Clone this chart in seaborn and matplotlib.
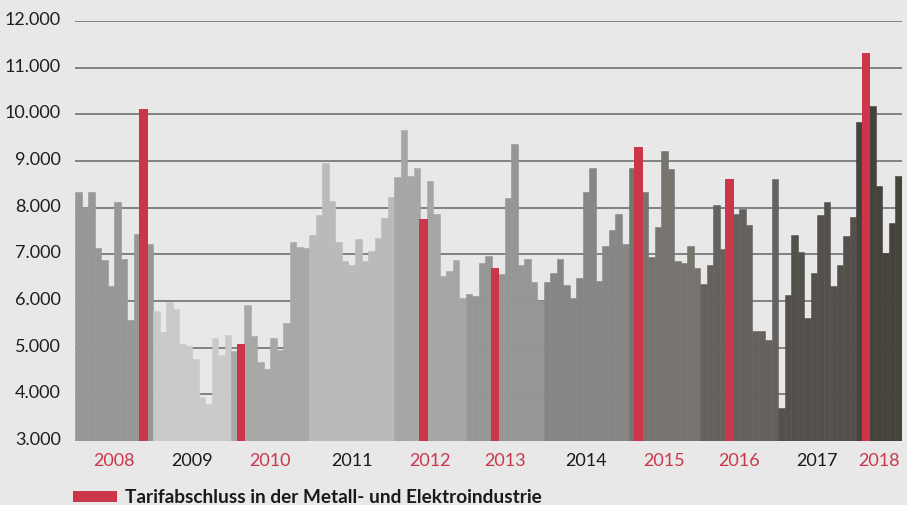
import matplotlib
matplotlib.use("Agg")
import matplotlib.pyplot as plt
import matplotlib.transforms as mtransforms
from matplotlib.patches import Rectangle
import numpy as np
import pandas as pd
import seaborn as sns

# ---------------- data ----------------
years = ["2008", "2009", "2010", "2011", "2012", "2013", "2014", "2015", "2016", "2017", "2018"]

v2008 = [8343, 8021, 8343, 7136, 6879, 6314, 8121, 6907, 5593, 7443, 10114, 7214]
v2009 = [5786, 5336, 5979, 5836, 5079, 5043, 4764, 3950, 3786, 5214, 4850, 5271]
v2010 = [4936, 5079, 5921, 5243, 4686, 4543, 5214, 4950, 5521, 7271, 7164, 7136]
v2011 = [7407, 7836, 8957, 8143, 7271, 6850, 6771, 7329, 6850, 7071, 7357, 7779, 8229]
v2012 = [8656, 9662, 8685, 8842, 7750, 8571, 7857, 6545, 6652, 6880, 6074]
v2013 = [6145, 6103, 6823, 6966, 6716, 6574, 8207, 9355, 6773, 6909, 6402, 6003]
v2014 = [6400, 6600, 6907, 6343, 6064, 6486, 8343, 8850, 6429, 7186, 7529, 7864, 7214]
v2015 = [8849, 9298, 8342, 6937, 7579, 9212, 8820, 6852, 6823, 7187, 6709]
v2016 = [6367, 6766, 8057, 7108, 8620, 7857, 7971, 7636, 5361, 5361, 5161, 8620]
v2017 = [3699, 6124, 7408, 7044, 5639, 6595, 7836, 8121, 6317, 6766, 7386, 7807]
v2018 = [9833, 11324, 10168, 8456, 7023, 7665, 8678]

# month (position within the year's block) of the Tarifabschluss, None if none
tarif_month = [10, None, 1, None, 4, 4, None, 1, 4, None, 1]

y_ticks = [3000, 4000, 5000, 6000, 7000, 8000, 9000, 10000, 11000, 12000]
y_tick_labels = ["3.000", "4.000", "5.000", "6.000", "7.000", "8.000",
                 "9.000", "10.000", "11.000", "12.000"]

legend_label = "Tarifabschluss in der Metall- und Elektroindustrie"

# ---------------- styles ----------------
BG = "#e8e8e8"
RED = "#cc364a"
GRID = "#666666"
year_colors = ["#989796", "#cacac9", "#a9a8a7", "#bbbab9", "#a7a6a5", "#979695",
               "#878684", "#77736f", "#65615e", "#54514d", "#46423c"]

sns.set_style("white")
plt.rcParams["font.family"] = ["Lato", "DejaVu Sans"]

values_by_year = [v2008, v2009, v2010, v2011, v2012, v2013, v2014, v2015, v2016, v2017, v2018]

rows = []
idx = 0
for y, vals, tm in zip(years, values_by_year, tarif_month):
    for m, v in enumerate(vals):
        rows.append({"idx": idx, "value": v, "year": y, "tarif": (tm is not None and m == tm)})
        idx += 1
df = pd.DataFrame(rows)
n = len(df)
order = list(range(n))

fig = plt.figure(figsize=(9.07, 5.05), dpi=100, facecolor=BG)
ax = fig.add_axes([75 / 907, 64 / 505, 827 / 907, 420 / 505])
ax.set_facecolor(BG)

sns.barplot(data=df, x="idx", y="value", hue="year", order=order,
            hue_order=years, palette=dict(zip(years, year_colors)),
            dodge=False, width=1.0, saturation=1, legend=False,
            linewidth=0, ax=ax, zorder=2)
for p in ax.patches:
    p.set_edgecolor(p.get_facecolor())
    p.set_linewidth(0.4)
sns.barplot(data=df[df["tarif"]], x="idx", y="value", order=order,
            color=RED, width=1.32, saturation=1, linewidth=0,
            ax=ax, zorder=3)

ax.set_ylim(3000, 12000)
ax.set_xlim(-0.5, n - 0.5)
ax.set_yticks(y_ticks)
ax.set_yticklabels(y_tick_labels)
ax.yaxis.grid(True, color=GRID, linewidth=1.1, zorder=0)
ax.xaxis.grid(False)
ax.set_axisbelow(True)
for s in ax.spines.values():
    s.set_visible(False)
ax.set_xlabel("")
ax.set_ylabel("")

# year labels centred under each block
sizes = [len(v) for v in values_by_year]
starts = np.cumsum([0] + sizes[:-1])
centers = [s + (k - 1) / 2 for s, k in zip(starts, sizes)]
ax.set_xticks(centers)
ax.set_xticklabels(years)
ax.tick_params(axis="x", length=0, pad=9, labelsize=13)
ax.tick_params(axis="y", length=0, pad=10, labelsize=13, labelcolor="#1e1e1e")
for lab, tm in zip(ax.get_xticklabels(), tarif_month):
    lab.set_color(RED if tm is not None else "#1a1a1a")
off = mtransforms.ScaledTranslation(0, -3 / 72, fig.dpi_scale_trans)
for lab in ax.get_yticklabels():
    lab.set_verticalalignment("baseline")
    lab.set_transform(lab.get_transform() + off)

# legend
fig.patches.append(Rectangle((73 / 907, 3 / 505), 44 / 907, 11 / 505,
                             transform=fig.transFigure, facecolor=RED,
                             edgecolor="none", figure=fig))
fig.text(125 / 907, 2 / 505, legend_label, fontsize=13.7, fontweight="bold",
         color="#1a1a1a", va="baseline", ha="left")

fig.savefig("out.png", dpi=100, facecolor=BG)
